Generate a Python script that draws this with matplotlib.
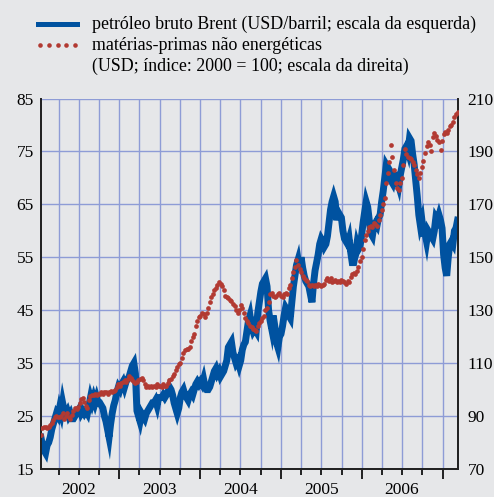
import numpy as np
import pandas as pd
import matplotlib
matplotlib.use('Agg')
import matplotlib.pyplot as plt
import matplotlib.dates as mdates
from matplotlib.lines import Line2D
from matplotlib.ticker import FuncFormatter

# weekly Brent crude, USD/barrel (left scale), Fridays from 11 Jan 2002
brent = [
    # 2002
    21.0, 19.5, 18.5,
    18.0, 19.5, 20.0, 21.0,
    22.5, 23.5, 24.5, 25.5, 25.0,
    26.5, 25.5, 27.5, 26.0,
    25.5, 26.0, 25.0, 25.5, 24.5,
    24.5, 25.0, 25.5, 26.0,
    26.5, 25.5, 26.0, 25.5,
    26.0, 25.5, 27.0, 28.5, 27.5,
    28.5, 27.5, 28.5, 27.5,
    27.5, 27.0, 26.5, 25.0,
    24.0, 22.5, 21.0, 23.5, 25.5,
    27.0, 28.0, 29.5, 30.5,
    # 2003
    30.0, 31.0, 31.5, 30.5, 31.5,
    32.0, 32.5, 33.5, 34.5,
    35.0, 33.0, 26.0, 25.0,
    24.0, 25.5, 25.0, 24.5,
    25.5, 26.0, 26.5, 27.0, 27.5,
    27.5, 28.0, 27.0, 28.5,
    28.5, 28.5, 29.0, 28.5,
    29.0, 29.5, 30.5, 30.0, 29.0,
    27.5, 26.5, 25.5, 26.5,
    28.5, 29.5, 30.0, 29.0, 28.5,
    28.0, 29.0, 29.5, 29.0,
    30.0, 31.0, 31.5, 31.0,
    # 2004
    31.5, 31.0, 32.0, 30.5, 30.0,
    30.0, 30.5, 31.5, 32.5,
    33.5, 34.0, 33.0, 33.5,
    32.5, 33.0, 33.5, 34.5, 35.5,
    38.0, 38.5, 39.0, 37.0,
    36.0, 35.0, 35.5, 34.5,
    35.5, 37.5, 38.5, 39.0, 41.0,
    43.0, 44.0, 42.0, 41.0,
    41.5, 41.0, 44.5, 46.5,
    48.5, 50.0, 50.5, 51.0, 49.5,
    45.0, 43.0, 41.5, 44.0,
    42.0, 39.0, 38.0, 40.0, 40.5,
    # 2005
    42.0, 44.0, 45.5, 45.0,
    44.0, 43.5, 46.5, 49.5,
    51.5, 53.5, 54.5, 52.5,
    55.0, 53.0, 51.5, 50.5, 50.0,
    49.5, 48.0, 46.5, 50.0,
    52.5, 54.0, 55.5, 57.5,
    58.5, 58.0, 57.0, 57.5, 59.0,
    61.5, 64.0, 65.5, 66.5,
    65.5, 62.0, 63.5, 63.0, 62.5,
    60.0, 58.5, 58.0, 57.5,
    58.5, 56.0, 54.0, 54.0,
    55.5, 57.5, 56.5, 57.0, 59.0,
    # 2006
    61.5, 63.5, 65.5, 64.5,
    62.0, 59.5, 59.0, 61.0,
    61.5, 61.0, 62.5, 63.0, 65.5,
    67.5, 70.0, 72.5, 72.0,
    71.5, 69.5, 69.0, 70.5,
    70.5, 69.5, 68.5, 70.5, 72.0,
    73.5, 75.5, 76.0, 75.0,
    77.5, 77.0, 74.5, 72.5,
    69.5, 66.5, 63.0, 61.0, 62.0,
    59.5, 59.5, 58.0, 60.0,
    59.5, 59.0, 58.5, 60.0,
    62.5, 62.0, 63.0, 62.0, 60.5,
    # 2007
    55.5, 53.0, 51.5, 55.0,
    57.5, 58.0, 57.5, 60.0,
    60.5, 62.0,
]

# weekly non-energy commodity prices, USD, index 2000 = 100 (right scale)
commodities = [
    # 2002
    83.0, 85.5, 86.0,
    86.0, 85.5, 86.0, 86.5,
    87.5, 88.5, 89.5, 90.0, 89.5,
    89.5, 90.0, 91.0, 89.0,
    90.0, 91.0, 89.5, 89.0, 90.5,
    92.0, 93.0, 92.5, 93.5,
    95.0, 96.5, 97.0, 95.5,
    94.0, 93.0, 96.0, 97.5, 98.0,
    98.0, 98.5, 98.0, 98.5,
    98.5, 99.0, 98.5, 99.0,
    99.0, 98.5, 99.0, 99.5, 99.0,
    99.5, 100.0, 101.0, 102.0,
    # 2003
    101.5, 102.5, 103.0, 103.5, 103.0,
    104.0, 105.0, 104.5, 103.5,
    103.0, 102.5, 103.0, 103.5,
    104.0, 104.5, 103.5, 102.0,
    101.0, 101.5, 101.0, 101.5, 101.0,
    101.5, 101.0, 102.0, 101.5,
    101.5, 101.0, 102.0, 101.5,
    101.5, 102.5, 103.5, 104.0, 105.0,
    106.0, 107.5, 108.5, 109.5,
    110.0, 112.0, 114.0, 115.0, 115.5,
    115.5, 116.0, 118.5, 120.0,
    121.0, 124.0, 126.0, 127.5,
    # 2004
    128.0, 129.0, 128.5, 127.5, 129.0,
    131.0, 133.0, 135.0, 136.0,
    137.5, 138.5, 139.5, 140.5,
    140.0, 139.0, 137.5, 135.5, 135.0,
    134.5, 134.0, 133.5, 132.5,
    131.5, 130.0, 129.0, 130.0,
    132.0, 131.0, 129.0, 127.0, 126.0,
    125.0, 124.0, 123.5, 123.0,
    122.5, 122.0, 124.0, 125.0,
    126.0, 127.0, 128.0, 130.0, 131.0,
    133.0, 136.0, 136.5, 135.5,
    135.0, 135.5, 136.0, 136.5, 135.5,
    # 2005
    135.0, 136.0, 136.5, 136.0,
    138.5, 139.5, 142.0, 144.5,
    146.5, 149.0, 147.0, 145.5,
    144.5, 143.0, 142.0, 141.5, 141.0,
    139.5, 139.0, 139.5, 139.0,
    139.5, 139.0, 140.0, 139.5,
    139.0, 139.5, 140.0, 141.5, 142.0,
    141.0, 142.0, 140.5, 141.0,
    141.5, 140.5, 141.0, 140.5, 141.5,
    141.0, 140.5, 140.0, 141.0,
    140.5, 142.5, 143.5, 144.0,
    143.5, 145.0, 146.5, 148.5, 150.0,
    # 2006
    153.0, 156.5, 158.5, 160.0,
    161.5, 162.0, 161.5, 163.0,
    162.5, 162.0, 164.0, 166.0, 168.0,
    170.0, 172.5, 178.0, 182.0,
    186.0, 192.5, 188.0, 183.0,
    178.0, 176.0, 175.5, 178.0, 180.0,
    185.0, 191.0, 189.0, 188.0,
    187.5, 187.0, 186.0, 185.0,
    183.0, 181.5, 180.0, 182.0, 184.0,
    186.5, 189.5, 192.0, 193.5,
    192.5, 190.0, 195.5, 197.0,
    196.0, 194.5, 193.5, 190.5, 194.0,
    # 2007
    196.5, 197.5, 197.0, 198.0,
    199.5, 200.0, 201.0, 203.0,
    204.0, 205.0,
]

dates = pd.date_range('2002-01-11', periods=len(brent), freq='W-FRI')

left_ticks = [15, 25, 35, 45, 55, 65, 75, 85]
right_ticks = [70, 90, 110, 130, 150, 170, 190, 210]
legend_labels = ['petróleo bruto Brent (USD/barril; escala da esquerda)',
                 'matérias-primas não energéticas',
                 '(USD; índice: 2000 = 100; escala da direita)']

BG = '#e6e7e9'
BLUE = '#0052a0'
RED = '#b23a32'
GRID = '#8e9cd6'

plt.rcParams['font.family'] = ['Liberation Serif', 'DejaVu Serif']

fig = plt.figure(figsize=(4.94, 4.97), dpi=100, facecolor=BG)
ax = fig.add_axes([0.0824, 0.0563, 0.8447, 0.7455], facecolor=BG)
ax2 = ax.twinx()

ax.plot(dates, brent, color=BLUE, lw=5.0, solid_joinstyle='miter', zorder=3)
ax2.plot(dates, commodities, ls='none', marker='o', ms=3.4, color=RED,
         markeredgewidth=0, zorder=4)

ax.set_ylim(15, 85)
ax2.set_ylim(70, 210)
ax.set_yticks(left_ticks)
ax2.set_yticks(right_ticks)
ax.set_xlim(pd.Timestamp('2002-01-10'), pd.Timestamp('2007-03-11'))

# x axis: long ticks at year starts, short ticks at quarters, year under July
ax.xaxis.remove_overlapping_locs = False
ax.xaxis.set_major_locator(mdates.YearLocator())
ax.xaxis.set_major_formatter(FuncFormatter(lambda v, p: ''))
ax.xaxis.set_minor_locator(mdates.MonthLocator(bymonth=[4, 7, 10]))
ax.xaxis.set_minor_formatter(FuncFormatter(
    lambda v, p: str(mdates.num2date(v).year) if mdates.num2date(v).month == 7 else ''))
ax.tick_params(axis='x', which='major', length=7, width=1.2, color='black')
ax.tick_params(axis='x', which='minor', length=4, width=1.2, color='black',
               labelsize=12.5, pad=5)

ax.tick_params(axis='y', length=0, labelsize=12.5, pad=5)
ax2.tick_params(axis='y', length=0, labelsize=12.5, pad=7)

ax.grid(which='both', axis='x', color=GRID, lw=1.0)
ax.grid(which='major', axis='y', color=GRID, lw=1.0)
ax.set_axisbelow(True)

for a in (ax, ax2):
    a.spines['top'].set_visible(False)
    for s in ('left', 'right', 'bottom'):
        a.spines[s].set_linewidth(1.3)
        a.spines[s].set_color('#222222')

# legend drawn in figure pixels
W, H = 494, 497
fig.add_artist(Line2D([38 / W, 77 / W], [1 - 24 / H] * 2, color=BLUE, lw=3.6,
                      transform=fig.transFigure))
fig.add_artist(Line2D(np.linspace(40, 75, 5) / W, [1 - 45 / H] * 5, ls='none',
                      marker='o', ms=3.3, markeredgewidth=0, color=RED,
                      transform=fig.transFigure))
for label, ypx in zip(legend_labels, [24, 45, 66]):
    fig.text(92 / W, 1 - ypx / H, label, fontsize=12.9, va='center', ha='left')

fig.savefig('out.png', dpi=100, facecolor=BG)
